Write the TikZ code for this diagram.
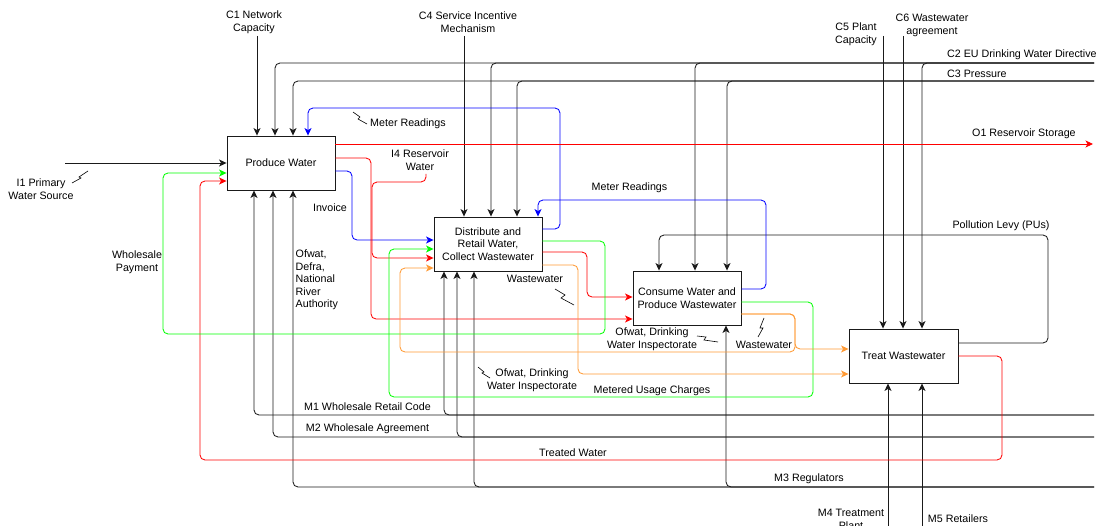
\documentclass[tikz,border=0pt]{standalone}
\usepackage{fontspec}
\setmainfont{Liberation Sans}
\usetikzlibrary{arrows.meta}
\newcommand\dgfont{\fontsize{10.7pt}{12.8pt}\selectfont}
\definecolor{wred}{HTML}{FF0000}
\definecolor{wgreen}{HTML}{00FF00}
\definecolor{wblue}{HTML}{0000FF}
\definecolor{worange}{HTML}{FF9933}
\definecolor{wblack}{HTML}{1A1A1A}
\begin{document}
\begin{tikzpicture}[x=1pt,y=-1pt,
  every node/.style={font=\dgfont, text=black},
  ln/.style={line width=0.85pt, rounded corners=5pt, draw=wblack},
  arrowed/.style={-{Stealth[length=7.5pt,width=7pt,inset=2pt]}},
  fbox/.style={draw=wblack, line width=0.9pt, fill=white, minimum width=108pt, minimum height=54pt, align=center, inner sep=1pt},
  lbl/.style={inner sep=0pt, align=center},
  squig/.style={line width=0.6pt, draw=black},
]
\useasboundingbox (0,0) rectangle (1096,526);

% boxes
\node[fbox] (pw) at (281,163) {Produce Water};
\node[fbox] (dr) at (488,244) {Distribute and\\Retail Water,\\Collect Wastewater};
\node[fbox] (cw) at (687,298) {Consume Water and\\Produce Wastewater};
\node[fbox, minimum width=109pt] (tw) at (903.5,356) {Treat Wastewater};

% free ends
\coordinate (c1) at (257,36);
\coordinate (c4) at (464,36);
\coordinate (c2) at (1094,63);
\coordinate (c3) at (1094,81);
\coordinate (c5) at (883,36);
\coordinate (c6) at (903,36);
\coordinate (i1) at (65,163);
\coordinate (i4) at (426,174);
\coordinate (o1) at (1093,144);
\coordinate (m1) at (1094,415);
\coordinate (m2) at (1094,437);
\coordinate (m3) at (1094,487);
\coordinate (m4) at (888,526);
\coordinate (m5) at (922,526);

% controls
\draw[ln,arrowed] (c1) -- (c1 |- pw.north);
\draw[ln,arrowed] (c4) -- (c4 |- dr.north);
\draw[ln,arrowed] (c2) -- (275,63) -- (275,0 |- pw.north);
\draw[ln,arrowed] (c2) -- (491,63) -- (491,0 |- dr.north);
\draw[ln,arrowed] (c2) -- (695,63) -- (695,0 |- cw.north);
\draw[ln,arrowed] (c2) -- (922,63) -- (922,0 |- tw.north);
\draw[ln,arrowed] (c3) -- (293,81) -- (293,0 |- pw.north);
\draw[ln,arrowed] (c3) -- (517,81) -- (517,0 |- dr.north);
\draw[ln,arrowed] (c3) -- (727,81) -- (727,0 |- cw.north);
\draw[ln,arrowed] (c5) -- (c5 |- tw.north);
\draw[ln,arrowed] (c6) -- (c6 |- tw.north);
\draw[ln,arrowed] (tw.east |- 0,343) -- (1048,343) -- (1048,235) -- (659,235) -- (659,0 |- cw.north);

% input
\draw[ln,arrowed] (i1) -- (pw.west |- i1);

% mechanisms
\draw[ln,arrowed] (m1) -- (254,415) -- (254,0 |- pw.south);
\draw[ln,arrowed] (m1) -- (444,415) -- (444,0 |- dr.south);
\draw[ln,arrowed] (m2) -- (273,437) -- (273,0 |- pw.south);
\draw[ln,arrowed] (m2) -- (457,437) -- (457,0 |- dr.south);
\draw[ln,arrowed] (m3) -- (293,487) -- (293,0 |- pw.south);
\draw[ln,arrowed] (m3) -- (474,487) -- (474,0 |- dr.south);
\draw[ln,arrowed] (m3) -- (726,487) -- (726,0 |- cw.south);
\draw[ln,arrowed] (m4) -- (m4 |- tw.south);
\draw[ln,arrowed] (m5) -- (m5 |- tw.south);

% blue
\draw[ln,draw=wblue,arrowed] (dr.east |- 0,229) -- (560,229) -- (560,108) -- (308,108) -- (308,0 |- pw.north);
\draw[ln,draw=wblue,arrowed] (cw.east |- 0,289) -- (766,289) -- (766,200) -- (538,200) -- (538,0 |- dr.north);
\draw[ln,draw=wblue,arrowed] (pw.east |- 0,171) -- (352,171) -- (352,240) -- (dr.west |- 0,240);

% red
\draw[ln,draw=wred,arrowed] (pw.east |- 0,144) -- (o1);
\draw[ln,draw=wred,arrowed] (pw.east |- 0,158) -- (371,158) -- (371,319) -- (cw.west |- 0,319);
\draw[ln,draw=wred,arrowed] (i4) -- (426,182) -- (372,182) -- (372,258) -- (dr.west |- 0,258);
\draw[ln,draw=wred,arrowed] (dr.east |- 0,252) -- (587,252) -- (587,297) -- (cw.west |- 0,297);
\draw[ln,draw=wred,arrowed] (tw.east |- 0,356) -- (1002,356) -- (1002,460) -- (200,460) -- (200,181) -- (pw.west |- 0,181);

% green
\draw[ln,draw=wgreen,arrowed] (dr.east |- 0,241) -- (605,241) -- (605,334) -- (163,334) -- (163,173) -- (pw.west |- 0,173);
\draw[ln,draw=wgreen,arrowed] (cw.east |- 0,302) -- (813,302) -- (813,397) -- (389,397) -- (389,249) -- (dr.west |- 0,249);

% orange
\draw[ln,draw=worange,arrowed] (dr.east |- 0,265) -- (578,265) -- (578,374) -- (tw.west |- 0,374);
\draw[ln,draw=worange,arrowed] (cw.east |- 0,314) -- (795,314) -- (795,349) -- (tw.west |- 0,349);
\draw[ln,draw=worange,arrowed] (cw.east |- 0,314) -- (795,314) -- (795,352) -- (400,352) -- (400,268) -- (dr.west |- 0,268);

% labels
\node[lbl] (lc1) at (254,22) {C1 Network\\Capacity};
\node[lbl] (lc4) at (468,22) {C4 Service Incentive\\Mechanism};
\node[lbl] (lc5) at (856,34) {C5 Plant\\Capacity};
\node[lbl] (lc6) at (932,25) {C6 Wastewater\\agreement};
\node[lbl, anchor=west] (lc2) at (947,55) {C2 EU Drinking Water Directive};
\node[lbl, anchor=west] (lc3) at (947,74) {C3 Pressure};
\node[lbl, anchor=west] (lo1) at (972,134) {O1 Reservoir Storage};
\node[lbl] (lmr1) at (408,124) {Meter Readings};
\node[lbl] (lmr2) at (629.5,188) {Meter Readings};
\node[lbl] (li4) at (420,160.5) {I4 Reservoir\\Water};
\node[lbl] (linv) at (330,208) {Invoice};
\node[lbl, anchor=west, align=left, font=\fontsize{10.7pt}{12.5pt}\selectfont] (lreg) at (295.5,280) {Ofwat,\\Defra,\\National\\River\\Authority};
\node[lbl] (lwp) at (137,262) {Wholesale\\Payment};
\node[lbl] (li1) at (41,189.5) {I1 Primary\\Water Source};
\node[lbl] (lww1) at (535,279) {Wastewater};
\node[lbl] (lof1) at (532,380.5) {Ofwat, Drinking\\Water Inspectorate};
\node[lbl] (lof2) at (652,339) {Ofwat, Drinking\\Water Inspectorate};
\node[lbl] (lww2) at (764,345) {Wastewater};
\node[lbl] (lmuc) at (652,391) {Metered Usage Charges};
\node[lbl] (lpl) at (1001,226) {Pollution Levy (PUs)};
\node[lbl] (lm1) at (367.5,407) {M1 Wholesale Retail Code};
\node[lbl] (lm2) at (367.5,428.5) {M2 Wholesale Agreement};
\node[lbl] (ltw) at (573,452.5) {Treated Water};
\node[lbl] (lm3) at (809,478.5) {M3 Regulators};
\node[lbl] (lm4) at (851,519) {M4 Treatment\\Plant};
\node[lbl] (lm5) at (958,518.5) {M5 Retailers};

% squiggles
\draw[squig] (72,183) -- (81,178) -- (79,177) -- (88,171);
\draw[squig] (353,112) -- (360,117) -- (358,119) -- (367,124);
\draw[squig] (478,367) -- (484,372) -- (482,373) -- (490,378);
\draw[squig] (555,289) -- (565,295) -- (561,298) -- (574,305);
\draw[squig] (697,336) -- (706,337) -- (704,340) -- (718,342);
\draw[squig] (764,318) -- (760,328) -- (763,328) -- (758,337);
\end{tikzpicture}
\end{document}
